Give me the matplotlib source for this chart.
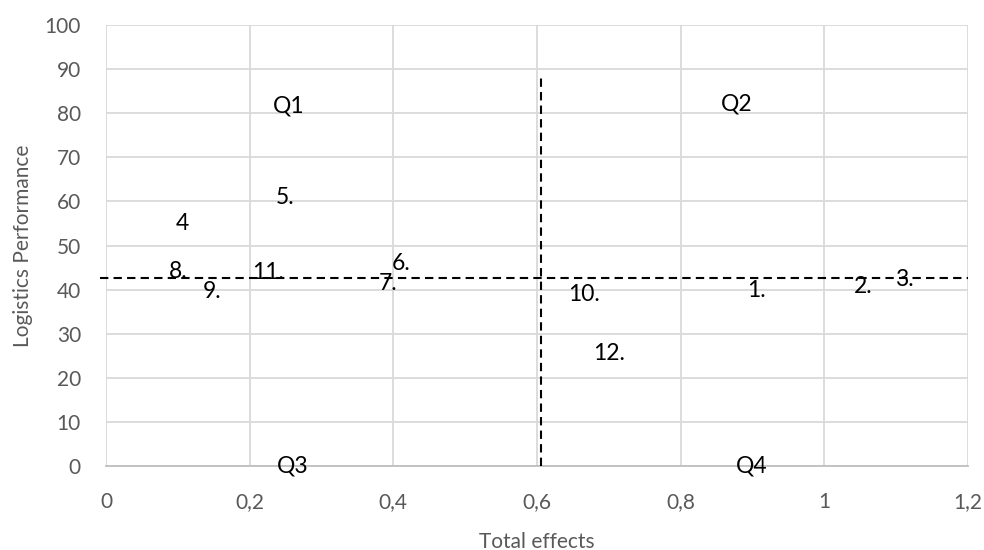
import matplotlib
matplotlib.use("Agg")
import matplotlib.pyplot as plt

# Point labels and their (Total effects, Logistics Performance) positions
labels = ["1.", "2.", "3.", "4", "5.", "6.", "7.", "8.", "9.", "10.", "11.", "12."]
x_vals = [0.906, 1.054, 1.111, 0.106, 0.249, 0.411, 0.393, 0.100, 0.148, 0.665, 0.226, 0.700]
y_vals = [39.9, 40.8, 42.2, 54.9, 60.8, 46.0, 41.5, 44.2, 39.5, 39.0, 43.8, 25.6]

# Quadrant names
quad_labels = ["Q1", "Q2", "Q3", "Q4"]
quad_x = [0.255, 0.878, 0.260, 0.899]
quad_y = [81.6, 82.1, 0.0, 0.0]

# Quadrant divider lines
vline_x = [0.605, 0.605]
vline_y = [0.0, 88.0]
hline_x = [-0.008, 1.2]
hline_y = [42.6, 42.6]

x_ticks = [0, 0.2, 0.4, 0.6, 0.8, 1.0, 1.2]
x_ticklabels = ["0", "0,2", "0,4", "0,6", "0,8", "1", "1,2"]
y_ticks = list(range(0, 101, 10))

plt.rcParams["font.family"] = ["Lato", "DejaVu Sans"]

fig = plt.figure(figsize=(9.84, 5.5), dpi=100)
ax = fig.add_axes([0.1077, 0.1527, 0.876, 0.8018])

ax.set_xlim(0, 1.2)
ax.set_ylim(0, 100)
ax.set_xticks(x_ticks)
ax.set_xticklabels(x_ticklabels)
ax.set_yticks(y_ticks)
ax.tick_params(axis="both", length=0, labelsize=15, colors="#595959")
ax.tick_params(axis="y", pad=18)
ax.tick_params(axis="x", pad=19)

ax.grid(True, color="#d9d9d9", linewidth=1.3)
ax.set_axisbelow(True)
for side in ["top", "right", "left"]:
    ax.spines[side].set_visible(False)
ax.spines["bottom"].set_color("#bfbfbf")
ax.spines["bottom"].set_linewidth(1.3)

dash = (0, (4, 2.5))
ax.plot(vline_x, vline_y, color="black", linewidth=1.5, linestyle=dash, zorder=3)
ax.plot(hline_x, hline_y, color="black", linewidth=1.5, linestyle=dash, zorder=3, clip_on=False)

for lab, x, y in zip(labels, x_vals, y_vals):
    ax.text(x, y, lab, ha="center", va="center", fontsize=16.5, color="black", zorder=4)
for lab, x, y in zip(quad_labels, quad_x, quad_y):
    ax.text(x, y, lab, ha="center", va="center", fontsize=16.5, color="black", zorder=4)

ax.set_xlabel("Total effects", fontsize=15, color="#595959", labelpad=14)
ax.set_ylabel("Logistics Performance", fontsize=15, color="#595959", labelpad=8)

fig.savefig("out.png", dpi=100)
